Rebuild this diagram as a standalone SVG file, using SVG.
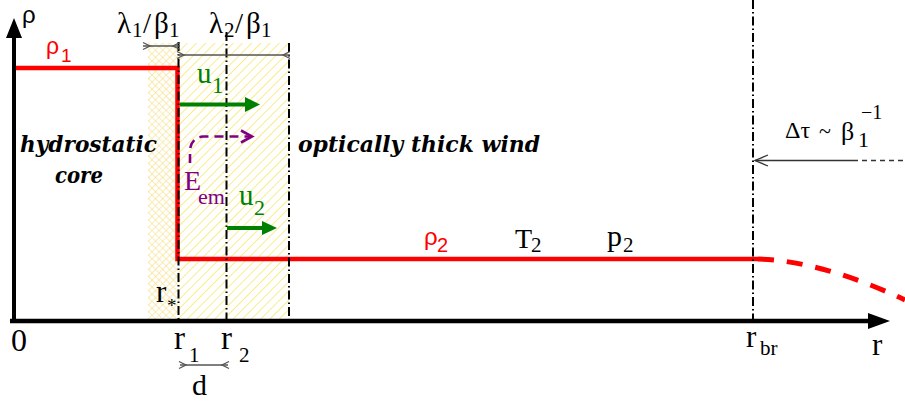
<svg xmlns="http://www.w3.org/2000/svg" width="905" height="401" viewBox="0 0 905 401">
<style>
.t{font-family:"Liberation Serif","Times New Roman",serif;fill:#000}
.s{font-family:"Liberation Sans",Arial,sans-serif}
.b{font-family:"DejaVu Serif",serif;font-weight:bold;font-style:italic;font-size:22px;fill:#000}
.red{fill:#ff0000}
.grn{fill:#008000}
.pur{fill:#800080}
.dd{stroke:#000;stroke-width:2;stroke-dasharray:9 3 1.5 3;fill:none}
.dim{stroke:#555;stroke-width:1.3;fill:none}
</style>
<defs>
<pattern id="diag" width="6.5" height="6.5" patternUnits="userSpaceOnUse" patternTransform="rotate(45)">
<line x1="0" y1="0" x2="0" y2="6.5" stroke="#f7e350" stroke-width="1.3"/>
</pattern>
<pattern id="cross" width="5" height="5" patternUnits="userSpaceOnUse" patternTransform="rotate(45)">
<line x1="0" y1="0" x2="0" y2="5" stroke="#f6da70" stroke-width="1"/>
<line x1="0" y1="0" x2="5" y2="0" stroke="#f6da70" stroke-width="1"/>
</pattern>
</defs>
<rect width="905" height="401" fill="#fff"/>

<g id="zones">
<rect x="148" y="43" width="30" height="277" fill="url(#cross)"/>
<rect x="178" y="43" width="111" height="277" fill="url(#diag)"/>
</g>

<g id="density-profile">
<polyline points="13,68 177.5,68 177.5,259 758,259" fill="none" stroke="#ff0000" stroke-width="4.5"/>
<path d="M758,259 Q822,261 905,300" fill="none" stroke="#ff0000" stroke-width="5" stroke-dasharray="16 13"/>
</g>

<g id="connectors">
<line class="dd" x1="178.5" y1="42" x2="178.5" y2="320"/>
<line class="dd" x1="226.5" y1="32" x2="226.5" y2="320"/>
<line class="dd" x1="289" y1="43" x2="289" y2="320"/>
<line class="dd" x1="753" y1="0" x2="753" y2="320"/>
<line class="dim" x1="143" y1="46" x2="180" y2="46"/>
<polyline class="dim" points="143,42.5 150,46 143,49.5"/>
<polyline class="dim" points="180,42.5 173,46 180,49.5"/>
<line class="dim" x1="178" y1="55" x2="290" y2="55"/>
<polyline class="dim" points="177,51.5 184,55 177,58.5"/>
<polyline class="dim" points="290,51.5 283,55 290,58.5"/>
<line class="dim" x1="180" y1="365" x2="228" y2="365"/>
<polyline class="dim" points="179,361.5 186,365 179,368.5"/>
<polyline class="dim" points="229,361.5 222,365 229,368.5"/>
<line x1="755" y1="160.5" x2="853" y2="160.5" stroke="#333" stroke-width="1.3"/>
<line x1="853" y1="160.5" x2="905" y2="160.5" stroke="#333" stroke-width="1.3" stroke-dasharray="5 4"/>
<polyline points="768,155 755,160.5 768,166" fill="none" stroke="#333" stroke-width="1.3"/>
<line x1="180" y1="104.5" x2="247" y2="104.5" stroke="#008000" stroke-width="4"/>
<polygon points="260,104.5 245,97 245,112" fill="#008000"/>
<line x1="227" y1="228" x2="264" y2="228" stroke="#008000" stroke-width="4"/>
<polygon points="277,228 262,221 262,235" fill="#008000"/>
<path d="M190,163 L190,150 Q191,138 203,136.5 L250,136.5" fill="none" stroke="#800080" stroke-width="2.6" stroke-dasharray="9 6"/>
<polyline points="241,130.5 252,136.5 241,142.5" fill="none" stroke="#800080" stroke-width="2.6"/>
</g>

<g id="axes">
<line x1="14" y1="322" x2="14" y2="34" stroke="#000" stroke-width="4"/>
<polygon points="14,18 6,38 22,38" fill="#000"/>
<line x1="10" y1="321" x2="870" y2="321" stroke="#000" stroke-width="4.5"/>
<polygon points="890,321 868,313 868,329" fill="#000"/>
</g>

<g id="labels">
<text class="s" x="22" y="23" font-size="24">ρ</text>
<text class="s red" x="46" y="54" font-size="23">ρ</text>
<text class="s red" x="61" y="62" font-size="19">1</text>

<text class="t" x="117" y="33" font-size="29">λ</text>
<text class="t" x="132" y="37" font-size="21">1</text>
<text class="t" x="143" y="33" font-size="29">/</text>
<text class="t" x="154" y="33" font-size="29">β</text>
<text class="t" x="169" y="37" font-size="21">1</text>
<text class="t" x="209" y="33" font-size="29">λ</text>
<text class="t" x="224" y="37" font-size="21">2</text>
<text class="t" x="235" y="33" font-size="29">/</text>
<text class="t" x="246" y="33" font-size="29">β</text>
<text class="t" x="261" y="37" font-size="21">1</text>

<text class="t grn" x="197" y="83" font-size="29">u</text>
<text class="t grn" x="212" y="93" font-size="23">1</text>
<text class="t grn" x="239" y="205" font-size="29">u</text>
<text class="t grn" x="254" y="215" font-size="22">2</text>

<text class="t pur" x="184" y="190" font-size="28">E</text>
<text class="t pur" x="198" y="204" font-size="22">em</text>

<text class="b" x="20" y="152" textLength="137" lengthAdjust="spacingAndGlyphs">hydrostatic</text>
<text class="b" x="55" y="183" textLength="48" lengthAdjust="spacingAndGlyphs">core</text>
<text class="b" x="298" y="152" textLength="242" lengthAdjust="spacingAndGlyphs">optically thick wind</text>

<text class="t" x="156" y="302" font-size="31">r</text>
<text class="t" x="167" y="312" font-size="19">*</text>

<text class="t" x="11" y="351" font-size="32">0</text>
<text class="t" x="174" y="349" font-size="33">r</text>
<text class="t" x="189" y="362" font-size="21">1</text>
<text class="t" x="221" y="349" font-size="33">r</text>
<text class="t" x="239" y="362" font-size="21">2</text>
<text class="t" x="192" y="395" font-size="30">d</text>

<text class="s red" x="424" y="245" font-size="24">ρ</text>
<text class="s red" x="437" y="252" font-size="20">2</text>
<text class="t" x="515" y="248" font-size="28">T</text>
<text class="t" x="531" y="252" font-size="21">2</text>
<text class="t" x="607" y="246" font-size="30">p</text>
<text class="t" x="623" y="252" font-size="21">2</text>

<text class="t" x="746" y="347" font-size="31">r</text>
<text class="t" x="760" y="355" font-size="21">br</text>
<text class="t" x="872" y="355" font-size="31">r</text>

<text class="t" x="785" y="138" font-size="24">Δτ</text>
<text class="t" x="819" y="138" font-size="22">~</text>
<text class="t" x="841" y="140" font-size="26">β</text>
<text class="t" x="858" y="147" font-size="22">1</text>
<text class="t" x="861" y="119" font-size="20">−1</text>
</g>
</svg>
